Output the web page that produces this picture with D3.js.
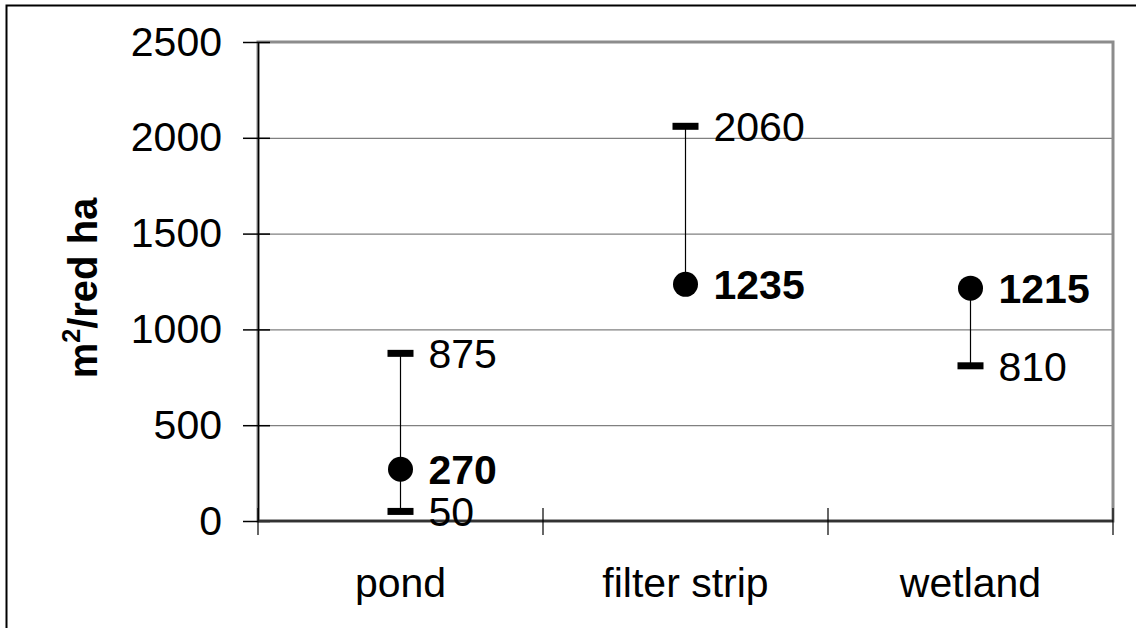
<!DOCTYPE html>
<html>
<head>
<meta charset="utf-8">
<script src="https://cdn.jsdelivr.net/npm/d3@7"></script>
<style>
  html, body { margin: 0; padding: 0; background: #fff; }
  svg text { font-family: "Liberation Sans", Arial, sans-serif; fill: #000; }
</style>
</head>
<body>
<svg id="svgchart"></svg>
<script>
'use strict'

// chart data
const categories = ["pond", "filter strip", "wetland"]
const pointValues = [270, 1235, 1215]      // big dot, bold label
const highValues  = [875, 2060, null]      // dash above
const lowValues   = [50, null, 810]        // dash below
const yTicks      = [0, 500, 1000, 1500, 2000, 2500]

const chartWidth  = 1136,
      chartHeight = 628

const plot = { left: 258, right: 1113, top: 42, bottom: 521 }

const svg = d3.select("#svgchart")
  .attr("width", chartWidth)
  .attr("height", chartHeight)

// outer frame (only left and top visible)
svg.append("rect")
  .attr("x", 6.5).attr("y", 5.5)
  .attr("width", chartWidth + 20).attr("height", chartHeight + 20)
  .attr("fill", "none").attr("stroke", "#000").attr("stroke-width", 2)

const x = d3.scaleBand().domain(categories).range([plot.left, plot.right]).padding(0)
const y = d3.scaleLinear().domain([0, 2500]).range([plot.bottom, plot.top])

// gridlines
svg.append("g").selectAll("line")
  .data(yTicks.filter(d => d > 0))
  .enter().append("line")
    .attr("x1", plot.left).attr("x2", plot.right)
    .attr("y1", d => y(d) + 0.5).attr("y2", d => y(d) + 0.5)
    .attr("stroke", "#808080").attr("stroke-width", 1.2)

// plot border (gray)
svg.append("rect")
  .attr("x", plot.left).attr("y", plot.top)
  .attr("width", plot.right - plot.left).attr("height", plot.bottom - plot.top)
  .attr("fill", "none").attr("stroke", "#8c8c8c").attr("stroke-width", 3)

// y axis
const yAxis = d3.axisLeft(y).tickValues(yTicks).tickFormat(d3.format("d")).tickSize(0).tickPadding(36)
const gy = svg.append("g").attr("transform", "translate(" + plot.left + ",0)").call(yAxis)
gy.select(".domain").attr("stroke", "#000").attr("stroke-width", 1.5)
gy.selectAll("text").style("font-size", "41px")
gy.selectAll(".tick").append("line")
  .attr("x1", -15).attr("x2", 12).attr("y1", 0).attr("y2", 0)
  .attr("stroke", "#000").attr("stroke-width", 1.5)

// x axis with category boundary ticks
const gx = svg.append("g").attr("transform", "translate(0," + plot.bottom + ")")
gx.append("line")
  .attr("x1", plot.left).attr("x2", plot.right)
  .attr("stroke", "#333").attr("stroke-width", 2.5)
const bounds = categories.map(c => x(c)).concat([plot.right])
gx.selectAll(".btick").data(bounds).enter().append("line")
  .attr("class", "btick")
  .attr("x1", d => d).attr("x2", d => d)
  .attr("y1", -13).attr("y2", 14)
  .attr("stroke", "#000").attr("stroke-width", 1.2)
gx.selectAll(".clabel").data(categories).enter().append("text")
  .attr("class", "clabel")
  .attr("x", d => x(d) + x.bandwidth() / 2)
  .attr("y", 76)
  .attr("text-anchor", "middle")
  .style("font-size", "41px")
  .text(d => d)

// y axis title
svg.append("text")
  .attr("transform", "translate(97,288) rotate(-90)")
  .attr("text-anchor", "middle")
  .style("font-size", "40px")
  .style("font-weight", "bold")
  .html("m<tspan dy='-17' style='font-size:25px'>2</tspan><tspan dy='17'>/red ha</tspan>")

// ranges, markers and labels
const rows = categories.map((c, i) => ({
  cat: c, point: pointValues[i], high: highValues[i], low: lowValues[i]
}))
const gMarks = svg.append("g")
const cx = d => x(d.cat) + x.bandwidth() / 2

rows.forEach(d => {
  const vals = [d.point, d.high, d.low].filter(v => v != null)
  gMarks.append("line")
    .attr("x1", cx(d)).attr("x2", cx(d))
    .attr("y1", y(d3.max(vals))).attr("y2", y(d3.min(vals)))
    .attr("stroke", "#000").attr("stroke-width", 1.2)

  ;[d.high, d.low].filter(v => v != null).forEach(v => {
    gMarks.append("rect")
      .attr("x", cx(d) - 13).attr("y", y(v) - 3.5)
      .attr("width", 26).attr("height", 7)
      .attr("fill", "#000")
    gMarks.append("text")
      .attr("x", cx(d) + 28).attr("y", y(v))
      .attr("dy", "0.36em")
      .style("font-size", "41px")
      .text(v)
  })

  gMarks.append("circle")
    .attr("cx", cx(d)).attr("cy", y(d.point))
    .attr("r", 12.5).attr("fill", "#000")
  gMarks.append("text")
    .attr("x", cx(d) + 28).attr("y", y(d.point))
    .attr("dy", "0.36em")
    .style("font-size", "41px")
    .style("font-weight", "bold")
    .text(d.point)
})
</script>
</body>
</html>
